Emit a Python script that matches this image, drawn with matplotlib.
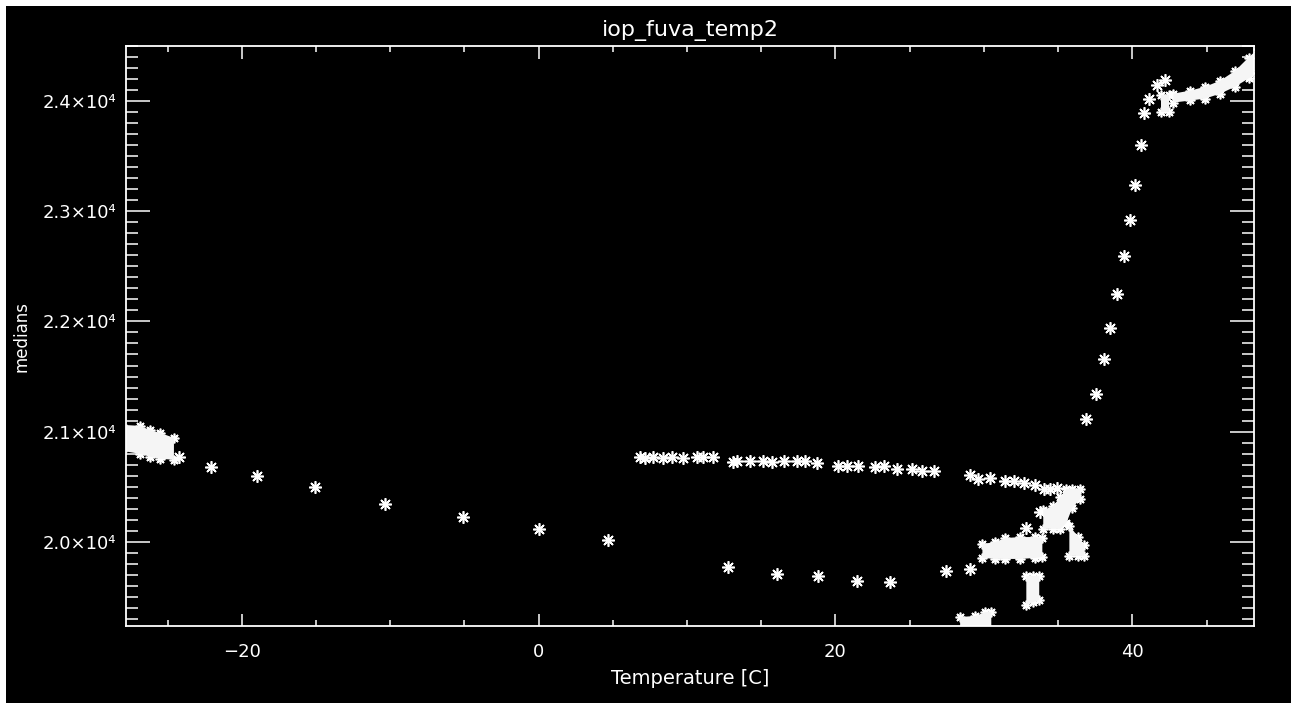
import matplotlib
matplotlib.use("Agg")
import matplotlib.pyplot as plt
from matplotlib.patches import Rectangle
from matplotlib.ticker import MultipleLocator, FixedLocator, FixedFormatter

# single asterisks (temperature [C], median)
desc_t = [-24.2, -22.05, -19.0, -15.08, -10.36, -5.08, 0.0, 4.7]
desc_m = [20768, 20677, 20600, 20495, 20343, 20222, 20116, 20012]

low_t = [12.79, 16.05, 18.85, 21.44, 23.69, 27.44, 29.08]
low_m = [19768, 19707, 19691, 19646, 19631, 19737, 19752]

row_t = [6.83, 7.17, 7.73, 8.40, 8.97, 9.75, 10.65, 11.1, 11.77,
         13.12, 13.39, 14.25, 15.15, 15.71, 16.5, 17.4, 17.96, 18.75,
         20.2, 20.77, 21.55, 22.68, 23.24, 24.14, 25.15, 25.83, 26.61,
         29.04, 29.58, 30.43, 31.44, 32.05, 32.72, 33.47, 34.03, 34.48, 34.93]
row_m = [20770, 20760, 20768, 20762, 20770, 20758, 20772, 20768, 20770,
         20720, 20730, 20735, 20735, 20728, 20735, 20737, 20730, 20718,
         20691, 20691, 20691, 20682, 20688, 20661, 20661, 20646, 20646,
         20607, 20570, 20577, 20555, 20555, 20537, 20516, 20477, 20477, 20486]

rise_t = [32.86, 33.76, 36.88, 37.56, 38.12, 38.52, 38.99, 39.46, 39.87,
          40.21, 40.59, 40.81, 41.1, 41.67, 42.23]
rise_m = [20122, 20273, 21116, 21343, 21661, 21943, 22252, 22597, 22925,
          23243, 23606, 23895, 24022, 24152, 24197]

# dense clusters of points: temperature, lower and upper median edge
blob_a_t = [-28.07, -26.86, -26.19, -25.51, -24.57]
blob_a_lo = [20825, 20798, 20771, 20753, 20744]
blob_a_hi = [21061, 21052, 21015, 20988, 20943]

blob_b_t = [42.77, 43.92, 44.93, 45.94, 46.95, 47.83, 48.5]
blob_b_lo = [23988, 24007, 24025, 24070, 24134, 24207, 24261]
blob_b_hi = [24070, 24097, 24133, 24188, 24279, 24397, 24479]

blob_c_t = [41.95, 42.5]
blob_c_lo = [23898, 23898]
blob_c_hi = [24061, 24061]

blob_d_t = [34.0, 34.68, 35.15, 35.56, 35.96, 36.5]
blob_d_lo = [20116, 20116, 20116, 20170, 20307, 20388]
blob_d_hi = [20288, 20325, 20406, 20479, 20479, 20479]

blob_e_t = [29.9, 30.77, 31.44, 32.45, 33.47, 33.94]
blob_e_lo = [19852, 19843, 19843, 19843, 19852, 19861]
blob_e_hi = [19979, 19997, 20033, 20042, 20042, 20033]

blob_f_t = [32.86, 33.3, 33.73]
blob_f_lo = [19425, 19450, 19471]
blob_f_hi = [19688, 19688, 19688]

blob_g_t = [28.4, 29.42, 30.1, 30.5]
blob_g_lo = [19100, 19100, 19100, 19100]
blob_g_hi = [19316, 19325, 19361, 19361]

blob_h_t = [35.76, 36.37, 36.77]
blob_h_lo = [19871, 19871, 19871]
blob_h_hi = [20143, 20043, 19970]

yticks = [20000, 21000, 22000, 23000, 24000]
ytick_labels = ['2.0×10⁴', '2.1×10⁴', '2.2×10⁴', '2.3×10⁴', '2.4×10⁴']

plt.rcParams['font.family'] = ['DejaVu Sans']

fig = plt.figure(figsize=(12.91, 7.03), dpi=100, facecolor='black')
# thin white strips along the top and left edge
fig.add_artist(Rectangle((0, 1 - 6 / 703), 1, 6 / 703, transform=fig.transFigure,
                         facecolor='white', edgecolor='none'))
fig.add_artist(Rectangle((0, 0), 6 / 1291, 1, transform=fig.transFigure,
                         facecolor='white', edgecolor='none'))
ax = fig.add_axes([126 / 1291, 77 / 703, 1128 / 1291, 580 / 703])
ax.set_facecolor('black')

ast = dict(ls='none', marker=(8, 2, 0), mew=1.2, color='white', mec='white')

ax.plot(desc_t, desc_m, ms=9, **ast)
ax.plot(low_t, low_m, ms=9, **ast)
ax.plot(row_t, row_m, ms=9, **ast)
ax.plot(rise_t, rise_m, ms=9, **ast)

blobs = [(blob_a_t, blob_a_lo, blob_a_hi), (blob_b_t, blob_b_lo, blob_b_hi),
         (blob_c_t, blob_c_lo, blob_c_hi), (blob_d_t, blob_d_lo, blob_d_hi),
         (blob_e_t, blob_e_lo, blob_e_hi), (blob_f_t, blob_f_lo, blob_f_hi),
         (blob_g_t, blob_g_lo, blob_g_hi), (blob_h_t, blob_h_lo, blob_h_hi)]
for bt, lo, hi in blobs:
    ax.fill_between(bt, lo, hi, facecolor='#f5f5f5', edgecolor='none', zorder=3)
    ax.plot(bt, lo, ms=7, **ast)
    ax.plot(bt, hi, ms=7, **ast)

ax.set_xlim(-27.8, 48.2)
ax.set_ylim(19234, 24502)

ax.xaxis.set_major_locator(MultipleLocator(20))
ax.xaxis.set_minor_locator(MultipleLocator(5))
ax.yaxis.set_major_locator(FixedLocator(yticks))
ax.yaxis.set_major_formatter(FixedFormatter(ytick_labels))
ax.yaxis.set_minor_locator(MultipleLocator(100))

for s in ax.spines.values():
    s.set_color('white')
    s.set_linewidth(1.3)
    s.set_zorder(5)
ax.tick_params(axis='both', which='both', direction='in', colors='white',
               top=True, right=True, width=1.1, labelsize=13)
ax.tick_params(axis='x', which='major', length=9, pad=12)
ax.tick_params(axis='x', which='minor', length=4)
ax.tick_params(axis='y', which='major', length=17, pad=7)
ax.tick_params(axis='y', which='minor', length=8.5)

ax.set_title('iop_fuva_temp2', color='white', fontsize=16, pad=7)
ax.set_xlabel('Temperature [C]', color='white', fontsize=14, labelpad=6)
ax.set_ylabel('medians', color='white', fontsize=12, labelpad=9)

fig.savefig('out.png', dpi=100, facecolor=fig.get_facecolor())
